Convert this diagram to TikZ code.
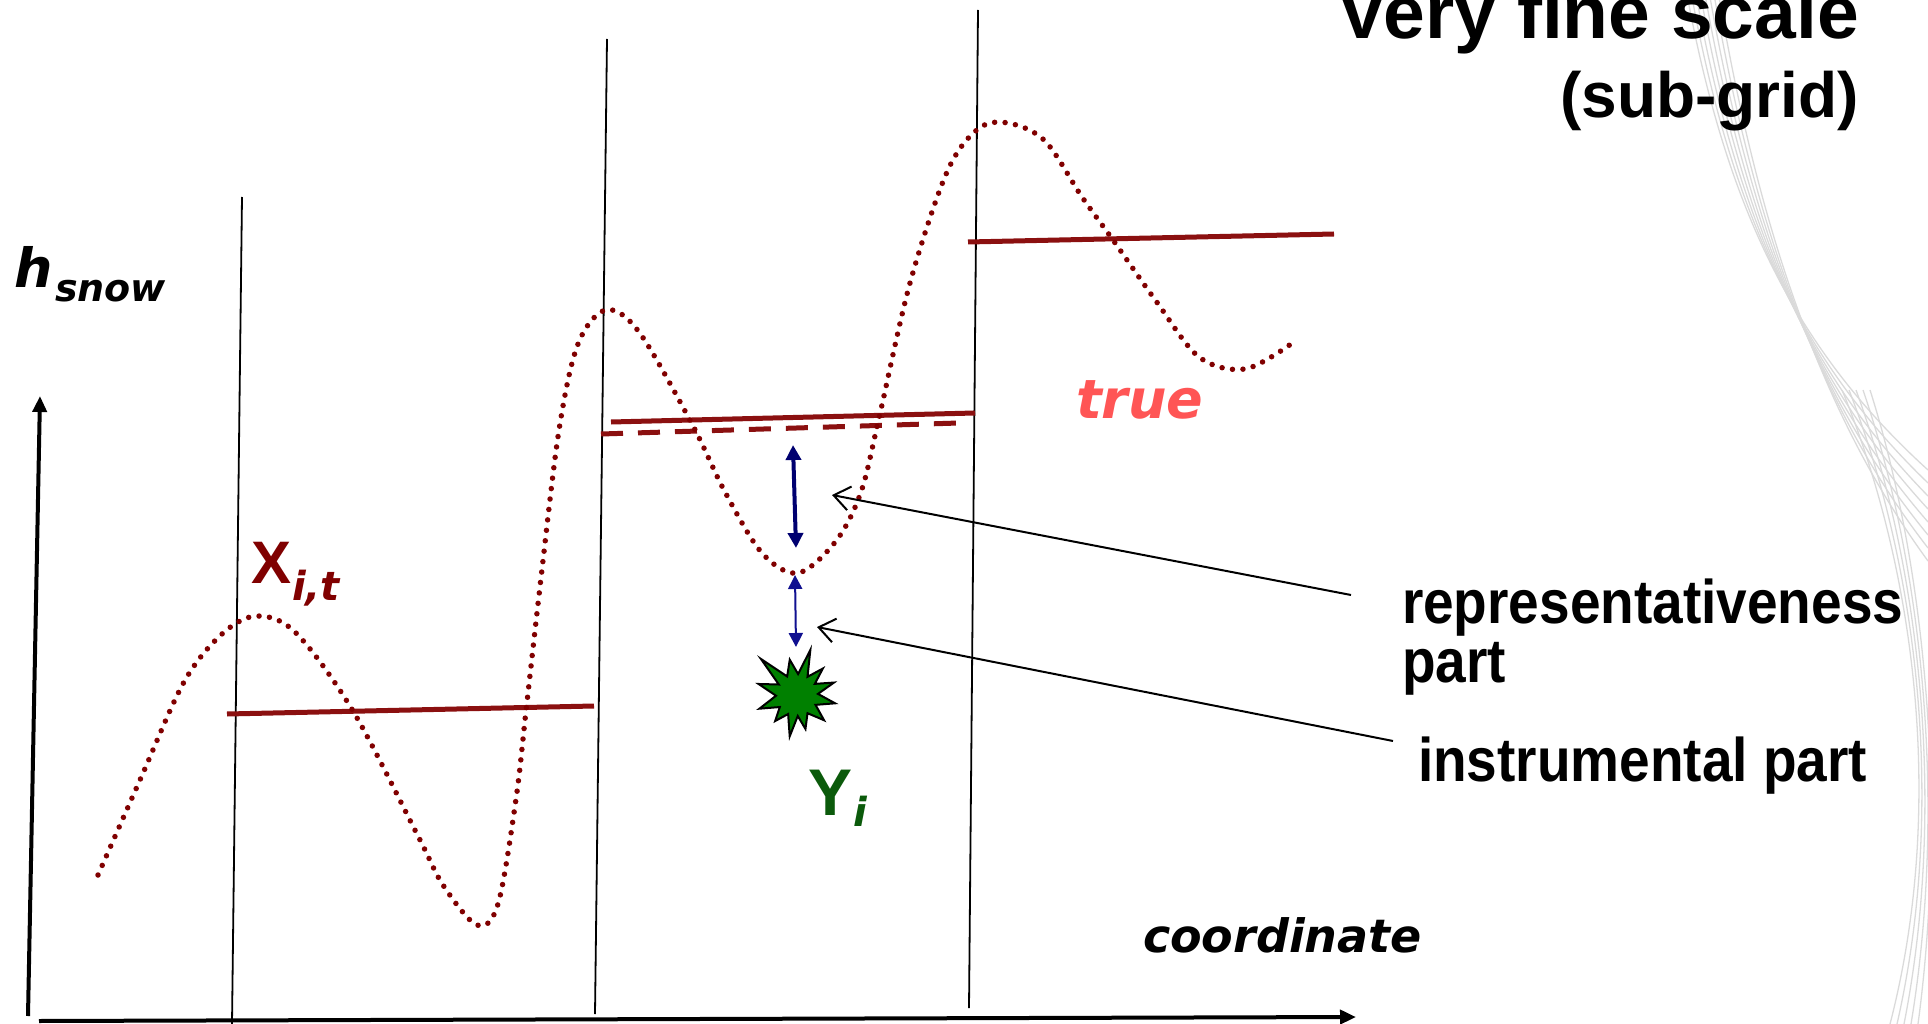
\documentclass[tikz,border=0pt]{standalone}
\usepackage{fontspec}
\setmainfont{Liberation Sans}
\newfontfamily\djv{DejaVu Sans}
\usetikzlibrary{arrows.meta,calc}
\definecolor{curvered}{HTML}{800000}
\definecolor{barred}{HTML}{8B1010}
\definecolor{truecol}{HTML}{FF5555}
\definecolor{navyA}{HTML}{000070}
\definecolor{navyB}{HTML}{101090}
\definecolor{stargreen}{HTML}{008000}
\definecolor{ygreen}{HTML}{0B5A0B}
\definecolor{swoosh}{HTML}{DADADA}
\begin{document}
\begin{tikzpicture}[x=1pt,y=-1pt,
  txt/.style={inner sep=0pt, outer sep=0pt},
  axisline/.style={line width=4pt, -{Triangle[length=16pt,width=14pt]}},
  gridline/.style={line width=1.8pt},
  bar/.style={line width=5pt, barred},
  dashbar/.style={line width=5pt, barred, dash pattern=on 22pt off 15pt},
  truecurve/.style={curvered, line width=5.5pt, line cap=round, dash pattern=on 0pt off 10.5pt},
  errbig/.style={navyA, line width=4pt, {Triangle[length=15pt,width=15pt]}-{Triangle[length=15pt,width=15pt]}},
  errsmall/.style={navyB, line width=2pt, {Triangle[length=14pt,width=14pt]}-{Triangle[length=14pt,width=14pt]}},
  pointer/.style={black, line width=2pt, -{Straight Barb[length=16pt,width=24pt]}},
  swooshline/.style={swoosh, line width=1.3pt},
  bigfont/.style={font=\fontsize{55}{60}\selectfont\bfseries}
]
\useasboundingbox (0,0) rectangle (1928,1024);
\clip (0,0) rectangle (1928,1024);

% decorative swoosh
\foreach \i in {0,...,7} {
  \draw[swooshline] (1688+4.5*\i,0) .. controls (1726+4*\i,200) and (1790+3*\i,345+8*\i) .. (1928,470+13*\i);
}
\foreach \i in {0,...,4} {
  \draw[swooshline] (1842+7*\i,390) .. controls (1912+3*\i,560) and (1948,800) .. (1890+7*\i,1024);
}

% title
\node[txt, anchor=base east, font=\fontsize{75}{80}\selectfont\bfseries] (title) at (1859,39) {Very fine scale};
\node[txt, anchor=base east, font=\fontsize{64}{70}\selectfont\bfseries] (subtitle) at (1859,118) {(sub-grid)};

% axes
\coordinate (yax0) at (28,1016);
\coordinate (yax1) at (40,396);
\coordinate (xax0) at (39,1021);
\coordinate (xax1) at (1356,1017);
\draw[axisline] (yax0) -- (yax1);
\draw[axisline] (xax0) -- (xax1);

% grid cell boundaries
\coordinate (g1t) at (242,197);  \coordinate (g1b) at (232,1024);
\coordinate (g2t) at (607,39);   \coordinate (g2b) at (595,1014);
\coordinate (g3t) at (978,10);   \coordinate (g3b) at (969,1008);
\draw[gridline] (g1t) -- (g1b);
\draw[gridline] (g2t) -- (g2b);
\draw[gridline] (g3t) -- (g3b);

% grid-cell means
\coordinate (b1a) at (227,714); \coordinate (b1b) at (594,706);
\coordinate (b2a) at (611,422); \coordinate (b2b) at (975,413);
\coordinate (bda) at (601,434); \coordinate (bdb) at (959,423);
\coordinate (b3a) at (968,242); \coordinate (b3b) at (1334,234);
\draw[bar] (b1a) -- (b1b);
\draw[bar] (b2a) -- (b2b);
\draw[dashbar] (bda) -- (bdb);
\draw[bar] (b3a) -- (b3b);

% true curve
\draw[truecurve] plot[smooth, tension=0.55] coordinates {
 (98,875) (140,780) (184,682) (222,634) (257,616) (296,633) (353,711) (418,836) (443,885) (477,925)
 (498,904) (516,799) (526,711) (541,578) (559,430) (578,344) (606,310) (639,332) (692,424)
 (725,492) (762,553) (798,573) (836,541) (861,492) (879,418) (910,283) (947,172) (978,129)
 (1008,123) (1045,141) (1082,197) (1113,240) (1156,301) (1199,357) (1245,369) (1291,344)};

% error arrows
\coordinate (r1) at (793,445); \coordinate (r2) at (796,548);
\coordinate (s1) at (795,575); \coordinate (s2) at (796,647);
\draw[errbig] (r1) -- (r2);
\draw[errsmall] (s1) -- (s2);

% observation star
\begin{scope}[shift={(797,695)}]
\draw[fill=stargreen, draw=black, line width=2pt, line join=miter]
 (-135:51) -- (-118:21) -- (-101.6:36) -- (-87:21) -- (-73.5:47) -- (-60:21) -- (-45.7:37) -- (-32:21)
 -- (-18.6:39) -- (-3:21) -- (12.3:39) -- (28:21) -- (43:37) -- (60:21) -- (76:35) -- (88:21)
 -- (100:42) -- (115:21) -- (130:34) -- (145:21) -- (160:40) -- (178:21) -- (196:40) -- (210:21) -- cycle;
\end{scope}

% labels
\node[txt, anchor=base west, font=\djv\fontsize{54}{60}\selectfont\bfseries\itshape] (hlab) at (14,288) {h};
\node[txt, anchor=base west, font=\djv\fontsize{38}{44}\selectfont\bfseries\itshape] (hsub) at (55,302) {snow};

\node[txt, anchor=base west, text=curvered, font=\fontsize{60}{66}\selectfont\bfseries] (xlab) at (251,583) {X};
\node[txt, anchor=base west, text=curvered, font=\djv\fontsize{40}{46}\selectfont\bfseries\itshape] (xsub) at (292,600) {i,t};

\node[txt, anchor=base west, text=ygreen, font=\fontsize{66}{72}\selectfont\bfseries] (ylab) at (808,815) {Y};
\node[txt, anchor=base west, text=ygreen, font=\djv\fontsize{40}{46}\selectfont\bfseries\itshape] (ysub) at (853,826) {i};

\node[txt, anchor=base west, text=truecol, font=\djv\fontsize{54}{60}\selectfont\bfseries\itshape] (truelab) at (1076,418) {true};
\node[txt, anchor=base west, font=\djv\fontsize{46}{52}\selectfont\bfseries\itshape] (coordlab) at (1143,952) {coordinate};

\node[txt, anchor=base west, bigfont] (rep1) at (1402,623) {\scalebox{1}[1.12]{representativeness}};
\node[txt, anchor=base west, bigfont] (rep2) at (1402,682) {\scalebox{1}[1.12]{part}};
\node[txt, anchor=base west, bigfont] (instr) at (1418,781) {\scalebox{1}[1.12]{instrumental part}};

% pointers
\coordinate (p1s) at (1351,595); \coordinate (p1t) at (832,495);
\coordinate (p2s) at (1393,741); \coordinate (p2t) at (817,627);
\draw[pointer] (p1s) -- (p1t);
\draw[pointer] (p2s) -- (p2t);
\end{tikzpicture}
\end{document}
